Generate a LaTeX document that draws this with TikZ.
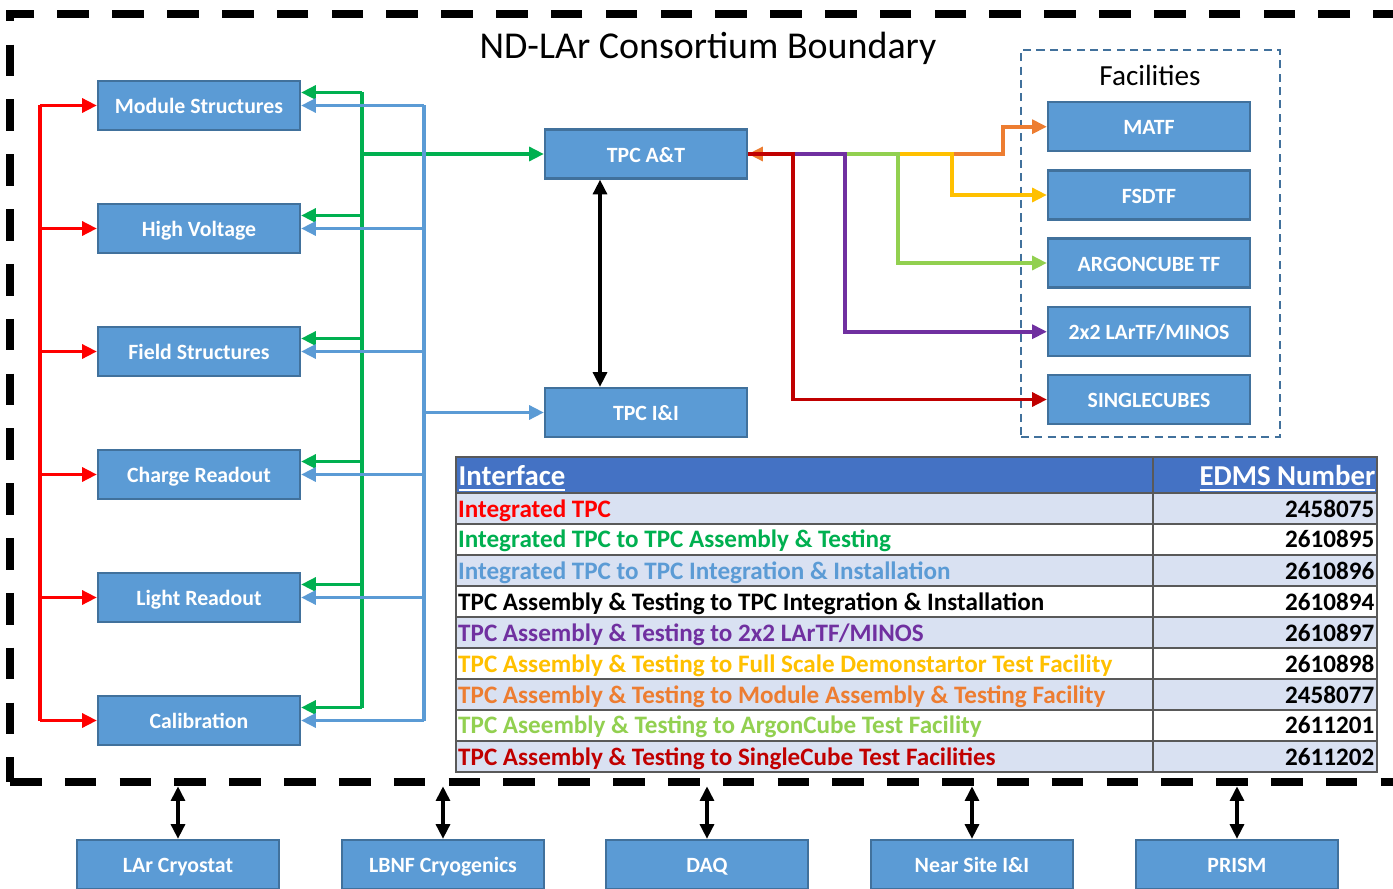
\documentclass[tikz,border=0pt]{standalone}
\usepackage{fontspec}
\setmainfont{Carlito}
\usetikzlibrary{arrows.meta}
\definecolor{boxblue}{HTML}{5B9BD5}
\definecolor{boxedge}{HTML}{41719C}
\definecolor{hdrblue}{HTML}{4472C4}
\definecolor{band}{HTML}{D9E1F2}
\definecolor{lnred}{HTML}{FF0000}
\definecolor{lngreen}{HTML}{00B050}
\definecolor{lnblue}{HTML}{5B9BD5}
\definecolor{lnpurple}{HTML}{7030A0}
\definecolor{lnyellow}{HTML}{FFC000}
\definecolor{lnorange}{HTML}{ED7D31}
\definecolor{lnlime}{HTML}{92D050}
\definecolor{lndkred}{HTML}{C00000}
\definecolor{rulegrey}{HTML}{595959}

\begin{document}
\begin{tikzpicture}[>={Triangle[length=4.2pt,width=3.9pt]},
  box/.style={draw=boxedge,fill=boxblue,line width=0.6pt,minimum width=2.02cm,minimum height=0.49cm,inner sep=0pt,text height=5.4pt,text depth=0.8pt,text=white,font=\bfseries\fontsize{6.2}{7}\selectfont},
  boundary/.style={draw=black,line width=2pt,dash pattern=on 9pt off 6.6pt,minimum width=14.1cm,minimum height=7.68cm,inner sep=0pt,outer sep=0pt},
  facbox/.style={draw=boxedge,line width=0.6pt,dash pattern=on 2.3pt off 1.5pt,minimum width=2.59cm,minimum height=3.87cm,inner sep=0pt},
  link/.style={line width=1.1pt},
  rowtext/.style={anchor=base west,inner sep=0pt,font=\bfseries\fontsize{7.15}{8}\selectfont},
  numtext/.style={anchor=base east,inner sep=0pt,font=\bfseries\fontsize{7.15}{8}\selectfont},
  hdrtext/.style={inner sep=0pt,text=white,font=\bfseries\fontsize{8.2}{9}\selectfont},
  tablerule/.style={draw=rulegrey,line width=0.45pt}]
  \path[fill=white,use as bounding box] (0,0) rectangle (13.93,-8.89);

  \node[boundary] (bnd) at (7.15,-3.98) {};
  \node[font=\fontsize{10.8}{12}\selectfont,anchor=base] (title) at (7.08,-0.59) {ND-LAr Consortium Boundary};

  \node[box] (ms) at (1.99,-1.055) {Module Structures};
  \node[box] (hv) at (1.99,-2.285) {High Voltage};
  \node[box] (fs) at (1.99,-3.515) {Field Structures};
  \node[box] (cr) at (1.99,-4.745) {Charge Readout};
  \node[box] (lr) at (1.99,-5.975) {Light Readout};
  \node[box] (cal) at (1.99,-7.205) {Calibration};

  \node[box] (tpcat) at (6.46,-1.54) {TPC A\&T};
  \node[box] (tpcii) at (6.46,-4.125) {TPC I\&I};

  \node[facbox] (fac) at (11.505,-2.435) {};
  \node[font=\fontsize{8.3}{9}\selectfont,anchor=base] (factitle) at (11.5,-0.85) {Facilities};
  \node[box] (matf) at (11.49,-1.267) {MATF};
  \node[box] (fsdtf) at (11.49,-1.95) {FSDTF};
  \node[box] (argon) at (11.49,-2.63) {ARGONCUBE TF};
  \node[box] (lartf) at (11.49,-3.317) {2x2 LArTF/MINOS};
  \node[box] (single) at (11.49,-3.995) {SINGLECUBES};

  \node[box] (lar) at (1.78,-8.645) {LAr Cryostat};
  \node[box] (lbnf) at (4.43,-8.645) {LBNF Cryogenics};
  \node[box] (daq) at (7.07,-8.645) {DAQ};
  \node[box] (nsii) at (9.72,-8.645) {Near Site I\&I};
  \node[box] (prism) at (12.37,-8.645) {PRISM};

  \coordinate (redbus) at (0.40,0);
  \coordinate (grbus) at (3.62,0);
  \coordinate (blbus) at (4.24,0);

  \draw[link,lnred] (redbus |- ms) -- (redbus |- cal);
  \draw[link,lnred,->] (redbus |- ms) -- (ms);
  \draw[link,lnred,->] (redbus |- hv) -- (hv);
  \draw[link,lnred,->] (redbus |- fs) -- (fs);
  \draw[link,lnred,->] (redbus |- cr) -- (cr);
  \draw[link,lnred,->] (redbus |- lr) -- (lr);
  \draw[link,lnred,->] (redbus |- cal) -- (cal);

  \draw[link,lngreen] ([yshift=1.3mm]grbus |- ms) -- ([yshift=1.3mm]grbus |- cal);
  \draw[link,lngreen,->] ([yshift=1.3mm]grbus |- ms) -- ([yshift=1.3mm]ms.east);
  \draw[link,lngreen,->] ([yshift=1.3mm]grbus |- hv) -- ([yshift=1.3mm]hv.east);
  \draw[link,lngreen,->] ([yshift=1.3mm]grbus |- fs) -- ([yshift=1.3mm]fs.east);
  \draw[link,lngreen,->] ([yshift=1.3mm]grbus |- cr) -- ([yshift=1.3mm]cr.east);
  \draw[link,lngreen,->] ([yshift=1.3mm]grbus |- lr) -- ([yshift=1.3mm]lr.east);
  \draw[link,lngreen,->] ([yshift=1.3mm]grbus |- cal) -- ([yshift=1.3mm]cal.east);
  \draw[link,lngreen,->] (grbus |- tpcat) -- (tpcat);

  \draw[link,lnblue] (blbus |- ms) -- (blbus |- cal);
  \draw[link,lnblue,->] (blbus |- ms) -- (ms.east);
  \draw[link,lnblue,->] (blbus |- hv) -- (hv.east);
  \draw[link,lnblue,->] (blbus |- fs) -- (fs.east);
  \draw[link,lnblue,->] (blbus |- cr) -- (cr.east);
  \draw[link,lnblue,->] (blbus |- lr) -- (lr.east);
  \draw[link,lnblue,->] (blbus |- cal) -- (cal.east);
  \draw[link,lnblue,->] (blbus |- tpcii) -- (tpcii);

  \draw[link,black,<->] ([xshift=-4.6mm]tpcat.south) -- ([xshift=-4.6mm]tpcii.north);

  \coordinate (orbus) at (10.03,0);
  \coordinate (yebus) at (9.52,0);
  \coordinate (libus) at (8.98,0);
  \coordinate (pubus) at (8.45,0);
  \coordinate (rdbus) at (7.93,0);
  \draw[link,lnorange,<->] (tpcat.east) -| (orbus |- matf) -- (matf);
  \draw[link,lnyellow,->] (tpcat.east) -| (yebus |- fsdtf) -- (fsdtf);
  \draw[link,lnlime,->] (tpcat.east) -| (libus |- argon) -- (argon);
  \draw[link,lnpurple,->] (tpcat.east) -| (pubus |- lartf) -- (lartf);
  \draw[link,lndkred,->] (tpcat.east) -| (rdbus |- single) -- (single);

  \draw[link,black,<->,shorten >=1.2pt] (lar) -- (lar |- bnd.south);
  \draw[link,black,<->,shorten >=1.2pt] (lbnf) -- (lbnf |- bnd.south);
  \draw[link,black,<->,shorten >=1.2pt] (daq) -- (daq |- bnd.south);
  \draw[link,black,<->,shorten >=1.2pt] (nsii) -- (nsii |- bnd.south);
  \draw[link,black,<->,shorten >=1.2pt] (prism) -- (prism |- bnd.south);

  % interface table
  \fill[hdrblue] (4.56,-4.57) rectangle (13.77,-4.93);
  \fill[band] (4.56,-4.93) rectangle (13.77,-5.24);
  \fill[band] (4.56,-5.55) rectangle (13.77,-5.86);
  \fill[band] (4.56,-6.17) rectangle (13.77,-6.48);
  \fill[band] (4.56,-6.79) rectangle (13.77,-7.10);
  \fill[band] (4.56,-7.41) rectangle (13.77,-7.72);
  \draw[tablerule] (4.56,-4.57) rectangle (13.77,-7.72)
    (11.53,-4.57) -- (11.53,-7.72)
    (4.56,-4.93) -- (13.77,-4.93)
    (4.56,-5.24) -- (13.77,-5.24)
    (4.56,-5.55) -- (13.77,-5.55)
    (4.56,-5.86) -- (13.77,-5.86)
    (4.56,-6.17) -- (13.77,-6.17)
    (4.56,-6.48) -- (13.77,-6.48)
    (4.56,-6.79) -- (13.77,-6.79)
    (4.56,-7.10) -- (13.77,-7.10)
    (4.56,-7.41) -- (13.77,-7.41);

  \node[hdrtext,anchor=base west] (hif) at (4.58,-4.85) {\underline{Interface}};
  \node[hdrtext,anchor=base east] (hedms) at (13.76,-4.85) {\underline{EDMS Number}};

  \node[rowtext,text=lnred] (r1) at (4.575,-5.17) {Integrated TPC};
  \node[rowtext,text=lngreen] (r2) at (4.575,-5.48) {Integrated TPC to TPC Assembly \& Testing};
  \node[rowtext,text=lnblue] (r3) at (4.575,-5.79) {Integrated TPC to TPC Integration \& Installation};
  \node[rowtext,text=black] (r4) at (4.575,-6.10) {TPC Assembly \& Testing to TPC Integration \& Installation};
  \node[rowtext,text=lnpurple] (r5) at (4.575,-6.41) {TPC Assembly \& Testing to 2x2 LArTF/MINOS};
  \node[rowtext,text=lnyellow] (r6) at (4.575,-6.72) {TPC Assembly \& Testing to Full Scale Demonstartor Test Facility};
  \node[rowtext,text=lnorange] (r7) at (4.575,-7.03) {TPC Assembly \& Testing to Module Assembly \& Testing Facility};
  \node[rowtext,text=lnlime] (r8) at (4.575,-7.34) {TPC Aseembly \& Testing to ArgonCube Test Facility};
  \node[rowtext,text=lndkred] (r9) at (4.575,-7.65) {TPC Assembly \& Testing to SingleCube Test Facilities};

  \node[numtext] (n1) at (13.75,-5.17) {2458075};
  \node[numtext] (n2) at (13.75,-5.48) {2610895};
  \node[numtext] (n3) at (13.75,-5.79) {2610896};
  \node[numtext] (n4) at (13.75,-6.10) {2610894};
  \node[numtext] (n5) at (13.75,-6.41) {2610897};
  \node[numtext] (n6) at (13.75,-6.72) {2610898};
  \node[numtext] (n7) at (13.75,-7.03) {2458077};
  \node[numtext] (n8) at (13.75,-7.34) {2611201};
  \node[numtext] (n9) at (13.75,-7.65) {2611202};
\end{tikzpicture}
\end{document}
